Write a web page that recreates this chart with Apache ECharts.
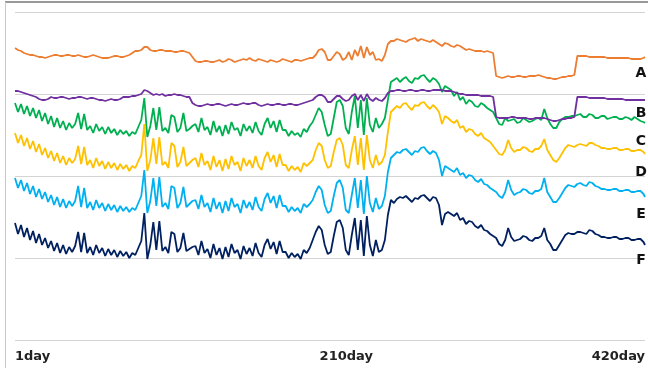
<!DOCTYPE html>
<html>
<head>
<meta charset="utf-8">
<script src="https://cdn.jsdelivr.net/npm/echarts@6/dist/echarts.min.js"></script>
<style>
  html, body { margin: 0; padding: 0; background: #fff; }
  #chart { width: 648px; height: 368px; }
</style>
</head>
<body>
<div id="chart"></div>
<script>
const seriesNames = ['A', 'B', 'C', 'D', 'E', 'F'];
const seriesColors = ['#ED7D31', '#7030A0', '#00B050', '#FFC000', '#00B0F0', '#002060'];
const tickDays = [1, 210, 420];
const tickLabels = ['1day', '210day', '420day'];

const valuesA = [
  292,290,289,287,286,285,285,284,283,283, 282,283,284,285,285,284,284,285,285,284,
  284,285,284,283,283,284,285,284,283,282, 282,282,283,284,284,283,283,284,285,287,
  289,289,290,293,293,290,289,289,290,290, 289,289,289,288,288,289,289,288,287,283,
  279,278,278,279,279,278,278,279,280,278, 279,281,280,278,279,280,281,280,282,280,
  279,281,280,279,278,280,279,278,279,281, 280,279,278,280,280,279,280,281,282,282,
  285,290,291,288,280,280,284,288,286,280, 282,288,280,290,284,294,282,293,285,288,
  280,281,279,285,296,299,299,301,300,299, 298,300,301,302,299,301,300,299,298,300,
  298,296,294,297,296,294,293,295,294,292, 290,291,290,289,289,289,288,289,288,287,
  264,263,262,263,264,263,263,264,264,263, 263,264,264,264,265,264,263,262,262,261,
  261,262,263,263,264,264,265,284,284,284, 284,283,283,283,283,283,283,282,282,282,
  282,282,282,282,282,281,281,281,281,282, 283];
const valuesB = [
  249,249,248,247,246,245,244,243,241,240, 240,241,243,242,242,243,243,242,241,242,
  242,243,243,242,241,242,242,241,240,240, 239,240,241,240,240,241,243,243,243,244,
  244,245,246,250,249,247,245,246,245,246, 244,245,245,246,245,245,244,243,243,237,
  235,234,234,235,236,235,235,236,236,235, 234,235,236,235,235,236,237,236,236,237,
  237,235,234,235,236,235,235,236,236,235, 235,236,236,235,235,236,237,238,239,240,
  243,245,245,243,238,238,241,244,244,241, 239,240,244,246,240,245,239,246,241,239,
  242,240,239,242,247,249,249,250,250,249, 249,250,250,249,249,250,250,249,249,250,
  250,250,250,249,249,249,248,247,246,246, 245,245,245,245,245,244,244,244,244,243,
  223,222,222,222,222,223,223,222,222,222, 222,221,221,222,222,222,222,221,220,219,
  219,220,221,221,222,222,223,243,243,243, 243,242,242,242,242,242,242,241,241,241,
  241,241,241,240,240,240,240,240,240,240, 240];
const valuesC = [
  237,228,236,226,234,224,232,222,230,219, 227,216,224,213,222,212,219,210,217,212,
  216,227,211,226,210,214,207,216,209,213, 206,213,207,211,205,210,206,209,204,208,
  206,213,220,242,203,214,232,210,233,209, 212,207,225,223,208,212,227,209,211,214,
  216,208,222,210,213,205,219,208,214,204, 215,206,218,210,212,204,216,209,214,207,
  218,209,205,216,222,212,219,208,220,210, 210,204,209,205,207,203,211,208,214,218,
  225,232,228,215,204,206,222,238,240,234, 212,206,228,244,212,240,205,242,215,208,
  222,212,216,222,240,258,260,262,258,261, 263,259,257,262,261,264,265,261,258,262,
  260,256,248,254,252,250,244,248,240,243, 236,240,238,234,233,237,235,232,230,228,
  222,216,215,222,219,220,221,217,218,222, 220,218,219,221,222,220,231,222,216,212,
  212,218,221,223,223,224,224,225,226,223, 223,226,225,222,222,224,224,221,222,223,
  223,221,221,223,222,220,223,221,219,218, 217];
const valuesD = [
  207,197,205,194,202,191,199,188,196,185, 192,182,189,179,187,177,184,175,182,177,
  181,194,176,193,175,180,172,182,174,179, 171,178,172,177,170,176,171,175,169,174,
  172,179,185,216,169,180,202,176,203,175, 178,172,197,194,173,178,193,174,177,180,
  182,173,187,175,179,170,184,173,180,169, 181,171,184,175,178,169,182,174,180,172,
  184,174,170,182,188,178,185,173,186,175, 175,169,174,170,173,168,177,174,177,180,
  190,197,194,180,172,174,188,200,202,195, 175,172,190,204,175,202,170,205,180,172,
  185,175,178,185,208,228,231,234,232,236, 237,233,230,235,234,237,238,234,231,235,
  232,228,216,224,222,219,217,220,212,214, 208,211,210,206,204,207,202,200,198,194,
  190,186,185,190,200,192,188,190,190,193, 192,189,188,191,191,194,201,190,185,180,
  178,182,187,192,195,194,193,195,196,195, 194,197,197,195,194,192,192,191,191,192,
  192,190,190,191,191,189,189,190,190,188, 186];
const valuesE = [
  162,152,160,149,157,146,154,143,151,141, 148,138,145,135,143,133,141,132,139,134,
  139,154,133,152,132,138,130,140,132,137, 129,136,130,135,128,134,129,133,128,132,
  130,137,144,170,127,139,162,134,163,133, 137,131,154,152,132,137,153,133,136,139,
  140,131,145,133,137,128,142,131,138,127, 139,129,142,133,136,127,140,132,138,130,
  143,133,129,141,147,137,144,132,145,134, 134,128,133,129,132,127,136,133,136,140,
  148,154,150,135,127,129,144,157,160,152, 130,127,145,162,132,160,126,164,137,128,
  142,131,134,144,168,182,185,188,187,190, 191,188,185,189,188,192,193,189,186,189,
  187,180,164,174,172,170,168,172,165,167, 162,165,164,160,158,161,156,155,152,150,
  148,144,142,148,160,150,145,147,148,151, 150,147,146,149,149,151,162,148,143,138,
  138,142,147,152,155,154,153,156,157,155, 154,158,157,154,153,151,151,150,150,151,
  151,149,149,150,150,148,148,149,149,146, 143];
const valuesF = [
  117,106,115,103,112,100,109,97,106,95, 102,92,99,89,97,87,95,86,93,88,
  94,108,88,107,87,93,85,95,87,92, 84,91,85,90,83,89,84,88,82,87,
  85,92,99,127,81,95,118,90,119,89, 93,87,108,106,88,92,107,89,91,93,
  94,85,99,87,91,82,96,85,92,81, 93,83,96,87,90,81,94,86,92,84,
  97,87,83,95,101,91,98,86,99,88, 88,82,87,83,86,81,90,87,92,100,
  108,114,110,95,86,88,104,118,120,112, 90,85,105,122,90,120,84,124,95,84,
  100,88,90,100,125,140,137,141,143,142, 144,141,138,142,141,144,145,142,139,143,
  142,135,115,126,128,126,124,127,120,122, 116,119,118,114,112,115,110,109,106,104,
  102,96,94,100,112,103,99,100,101,104, 103,100,99,102,102,104,112,100,96,90,
  90,95,100,105,107,106,106,108,108,107, 106,110,109,106,105,103,103,102,102,103,
  103,101,101,102,102,100,100,101,101,98, 95];

const allValues = [valuesA, valuesB, valuesC, valuesD, valuesE, valuesF];

// sample days: 1, 3, 5, ... up to the last day
const days = [];
for (let i = 0; i < valuesA.length; i++) days.push(Math.min(1 + 2 * i, 420));

const labelY = [73, 113, 141, 172, 214, 260];

const chart = echarts.init(document.getElementById('chart'));

const series = seriesNames.map((name, k) => ({
  name: name,
  type: 'line',
  data: days.map((d, i) => [d, allValues[k][i]]),
  showSymbol: false,
  silent: true,
  lineStyle: { color: seriesColors[k], width: 1.8 },
  itemStyle: { color: seriesColors[k] },
  z: 10 - k
}));

const option = {
  animation: false,
  grid: { left: 15, right: 3, top: 12, bottom: 28 },
  xAxis: {
    type: 'value',
    min: 1,
    max: 420,
    axisLine: { show: false },
    axisTick: { show: false },
    splitLine: { show: false },
    axisLabel: {
      customValues: tickDays,
      margin: 10,
      fontFamily: 'DejaVu Sans',
      fontWeight: 'bold',
      fontSize: 13,
      color: '#222',
      alignMinLabel: 'left',
      alignMaxLabel: 'right',
      formatter: v => {
        const i = tickDays.indexOf(v);
        return i === 1 ? '{mid|' + tickLabels[i] + '}' : tickLabels[i];
      },
      rich: {
        mid: { fontFamily: 'DejaVu Sans', fontWeight: 'bold', fontSize: 13, color: '#222', padding: [0, 0, 0, 34] }
      }
    }
  },
  yAxis: {
    type: 'value',
    min: 0,
    max: 328,
    interval: 82,
    axisLine: { show: false },
    axisTick: { show: false },
    axisLabel: { show: false },
    splitLine: { lineStyle: { color: '#d4d4d4', width: 1 } }
  },
  graphic: [
    { type: 'line', shape: { x1: 5, y1: 2, x2: 648, y2: 2 }, style: { stroke: '#777', lineWidth: 1.5 } },
    { type: 'line', shape: { x1: 5.5, y1: 2, x2: 5.5, y2: 368 }, style: { stroke: '#c8c8c8', lineWidth: 1 } }
  ].concat(seriesNames.map((name, k) => ({
    type: 'text',
    x: 641,
    y: labelY[k],
    z: 100,
    style: {
      text: name,
      fontFamily: 'DejaVu Sans',
      fontWeight: 'bold',
      fontSize: 14,
      fill: '#111',
      align: 'center',
      verticalAlign: 'middle'
    }
  }))),
  series: series
};

chart.setOption(option);
</script>
</body>
</html>
